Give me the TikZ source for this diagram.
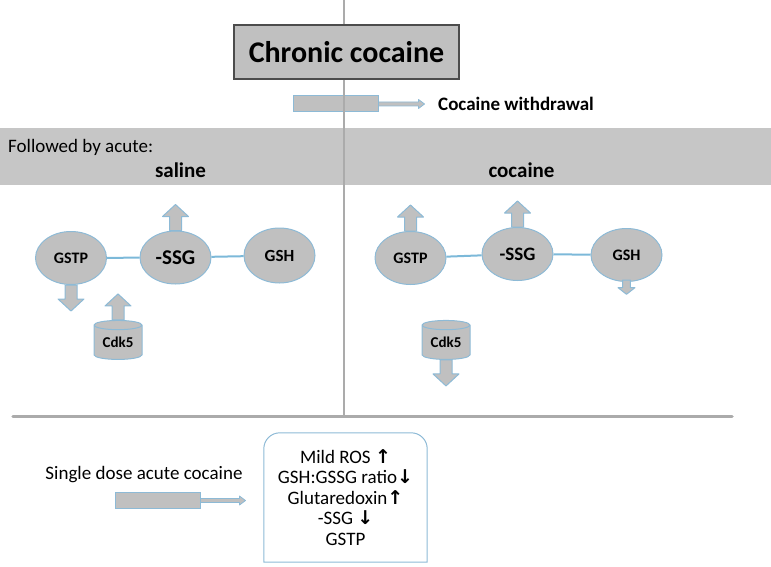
\documentclass[tikz,border=0pt]{standalone}
\usepackage{fontspec}
\setmainfont{Carlito}
\newfontfamily\arrowfont{DejaVu Sans}
\usetikzlibrary{shapes.geometric, positioning}

\definecolor{boxgray}{HTML}{C0C0C0}
\definecolor{bandgray}{HTML}{C6C6C6}
\definecolor{rimblue}{HTML}{8DBAD6}
\definecolor{linkblue}{HTML}{7CB9D9}
\definecolor{rulegray}{HTML}{ABABAB}

\begin{document}
\begin{tikzpicture}[x=1pt, y=-1pt]
    \tikzstyle{bubble} = [ellipse, draw=rimblue, fill=boxgray, line width=1pt, minimum width=71, minimum height=53, inner sep=0, font=\bfseries];
    \tikzstyle{can} = [cylinder, shape border rotate=90, aspect=0.3, draw=rimblue, fill=boxgray, line width=1pt, minimum width=48, minimum height=39, inner sep=0, font=\bfseries\fontsize{15}{18}\selectfont];
    \tikzstyle{plunger} = [draw=rimblue, fill=boxgray, line width=1pt, minimum width=85, minimum height=16, inner sep=0];
    \tikzstyle{arrowbody} = [draw=rimblue, fill=boxgray, line width=1pt, line join=round];
    \tikzstyle{link} = [draw=linkblue, line width=2pt];
    \tikzstyle{plain} = [inner sep=0, font=\fontsize{19}{21}\selectfont];
    \tikzstyle{heading} = [inner sep=0, font=\bfseries\fontsize{21}{24}\selectfont];
    \tikzset{fatup/.pic={\draw[arrowbody] (-6,0) -- (-6,-14) -- (-13,-14) -- (0,-26) -- (13,-14) -- (6,-14) -- (6,0) -- cycle;}}

    \useasboundingbox (0,0) rectangle (771,567);

    % grey band and rules
    \fill[bandgray] (0,128) rectangle (771,185);
    \node[plunger] (plA) at (335.5,104) {};
    \draw[rulegray, line width=2pt] (344,0) -- (344,417);
    \draw[rulegray, line width=3.5pt, line cap=round] (13,416.5) -- (732,416.5);

    \node[draw=black!70, fill=boxgray, line width=1.2pt, minimum width=225, minimum height=54, font=\bfseries\fontsize{30}{35}\selectfont] (chronic) at (346.5,52) {Chronic cocaine};

    \node[anchor=west, inner sep=0, font=\bfseries\fontsize{19}{22}\selectfont] (withdraw) at (438,104) {Cocaine withdrawal};
    \draw[arrowbody, line width=0.8pt] (plA.east) ++(0,-2) -- ++(40,0) -- ++(0,-2.5) -- ++(6,4.5) -- ++(-6,4.5) -- ++(0,-2.5) -- ++(-40,0) -- cycle;

    \node[plain, anchor=west] (followed) at (8,147) {Followed by acute:};
    \node[heading] (saline) at (180.5,170) {saline};
    \node[heading] (cocaine) at (521.5,170) {cocaine};

    % saline side
    \node[bubble, font=\bfseries\fontsize{16}{18}\selectfont] (gstpA) at (71,258) {GSTP};
    \node[bubble, font=\bfseries\fontsize{21}{24}\selectfont] (ssgA) at (175.5,257.5) {-SSG};
    \node[bubble, minimum height=55, font=\bfseries\fontsize{17}{20}\selectfont] (gshA) at (279.5,255.5) {GSH};
    \node[can] (cdkA) at (118,342.5) {Cdk5};

    \draw[link] (gstpA) -- (ssgA);
    \draw[link] (ssgA) -- (gshA);

    \pic at (ssgA.north) {fatup};
    \pic[rotate=180] at (gstpA.south) {fatup};
    \pic at (cdkA.north) {fatup};

    % cocaine side
    \node[bubble, font=\bfseries\fontsize{16}{18}\selectfont] (gstpB) at (410.5,258) {GSTP};
    \node[bubble, font=\bfseries\fontsize{19}{22}\selectfont] (ssgB) at (517.5,254) {-SSG};
    \node[bubble, font=\bfseries\fontsize{16}{19}\selectfont] (gshB) at (626.5,255) {GSH};
    \node[can] (cdkB) at (446,342.5) {Cdk5};

    \draw[link] (gstpB) -- (ssgB);
    \draw[link] (ssgB) -- (gshB);

    \pic at (gstpB.north) {fatup};
    \pic at (ssgB.north) {fatup};
    \pic[rotate=180, xscale=0.65, yscale=0.55] at ([yshift=2pt]gshB.south) {fatup};
    \pic[rotate=180] at (cdkB.south) {fatup};

    % acute dose panel
    \node[plain] (single) at (144,475) {Single dose acute cocaine};
    \node[plunger] (plC) at (157.5,500.5) {};
    \draw[arrowbody, line width=0.8pt] (plC.east) ++(0,-2) -- ++(39,0) -- ++(0,-2.5) -- ++(6,4.5) -- ++(-6,4.5) -- ++(0,-2.5) -- ++(-39,0) -- cycle;

    \node[minimum width=163, minimum height=129, inner sep=0, align=center, font=\fontsize{19}{20.5}\selectfont] (summary) at (345.5,497.5)
        {Mild ROS {\arrowfont\bfseries ↑}\\ GSH:GSSG ratio{\arrowfont\bfseries ↓}\\ Glutaredoxin{\arrowfont\bfseries ↑}\\ -SSG {\arrowfont\bfseries ↓}\\ GSTP};
    \draw[rimblue, line width=1pt] (summary.south west) [rounded corners=16pt] -- (summary.north west) -- (summary.north east) [sharp corners] -- (summary.south east) -- cycle;
\end{tikzpicture}
\end{document}
